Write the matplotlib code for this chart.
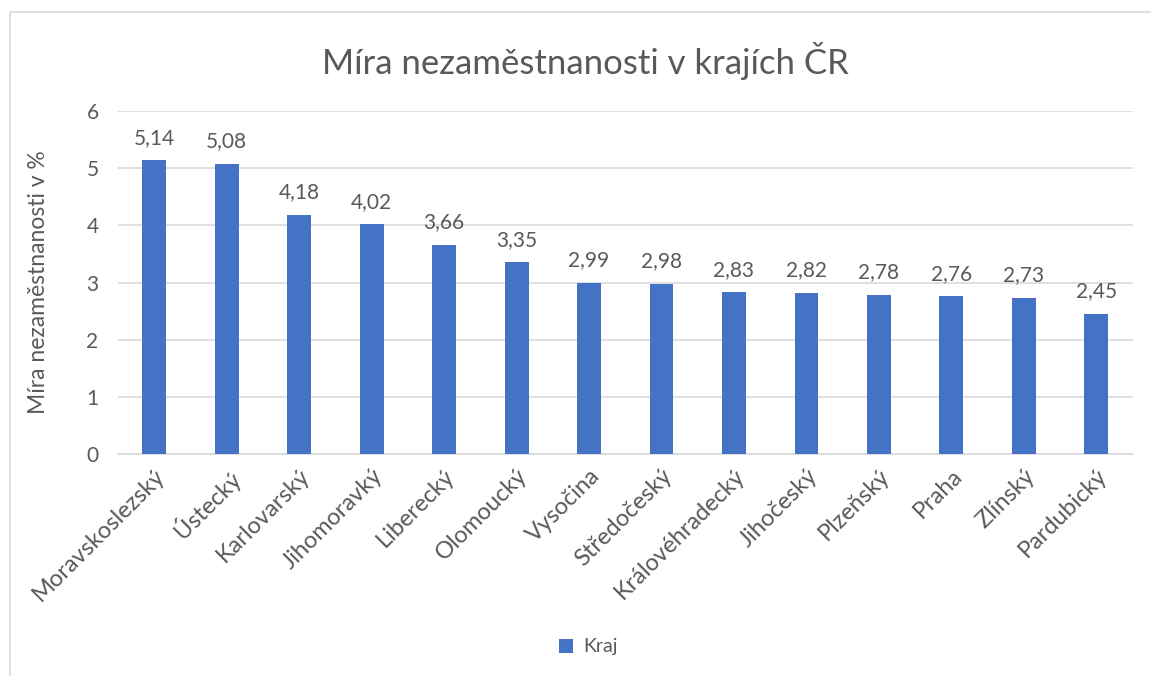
import matplotlib
matplotlib.use("Agg")
import matplotlib.pyplot as plt
from matplotlib.patches import Rectangle

kraje = ["Moravskoslezský", "Ústecký", "Karlovarský", "Jihomoravký", "Liberecký",
         "Olomoucký", "Vysočina", "Středočeský", "Královéhradecký", "Jihočeský",
         "Plzeňský", "Praha", "Zlínský", "Pardubický"]
hodnoty = [5.14, 5.08, 4.18, 4.02, 3.66, 3.35, 2.99, 2.98, 2.83, 2.82, 2.78, 2.76, 2.73, 2.45]
y_ticks = [0, 1, 2, 3, 4, 5, 6]

plt.rcParams['font.family'] = ['Lato', 'DejaVu Sans']
gray = "#595959"
blue = "#4472C4"

fig = plt.figure(figsize=(11.51, 6.76), dpi=100)
ax = fig.add_axes([0.1025, 0.3284, 0.8815, 0.5074])

x = list(range(len(kraje)))
ax.bar(x, hodnoty, width=0.33, color=blue, label="Kraj", zorder=3)
for xi, v in zip(x, hodnoty):
    ax.annotate(f"{v:.2f}".replace(".", ","), (xi, v), xytext=(0, 9),
                textcoords="offset points", ha="center", va="bottom",
                fontsize=15, color=gray)

ax.set_xlim(-0.5, len(kraje) - 0.5)
ax.set_ylim(0, 6)
ax.set_yticks(y_ticks)
ax.set_yticklabels([str(t) for t in y_ticks], fontsize=15, color=gray)
ax.set_xticks(x)
ax.set_xticklabels(kraje, rotation=45, ha="right", rotation_mode="anchor",
                   fontsize=17, color=gray)
ax.tick_params(axis="y", length=0, pad=14)
ax.tick_params(axis="x", length=0, pad=8)
ax.grid(axis="y", color="#d9d9d9", linewidth=1.2, zorder=0)
for s in ["top", "right", "left"]:
    ax.spines[s].set_visible(False)
ax.spines["bottom"].set_color("#d9d9d9")
ax.spines["bottom"].set_linewidth(1.2)

ax.set_ylabel("Míra nezaměstnanosti v %", fontsize=16.5, color=gray, labelpad=27)
fig.text(0.509, 0.91, "Míra nezaměstnanosti v krajích ČR", ha="center", va="center",
         fontsize=25, color=gray)

leg = fig.legend(loc="center", bbox_to_anchor=(0.511, 0.043), frameon=False,
                 fontsize=14, handlelength=0.75, handleheight=0.75, handletextpad=0.5)
for t in leg.get_texts():
    t.set_color(gray)

fig.patches.append(Rectangle((10/1151, -0.1), 1.2, 1 - 12/676 + 0.1,
                             transform=fig.transFigure, fill=False,
                             edgecolor="#d9d9d9", linewidth=1.2))

fig.savefig("out.png", dpi=100)
